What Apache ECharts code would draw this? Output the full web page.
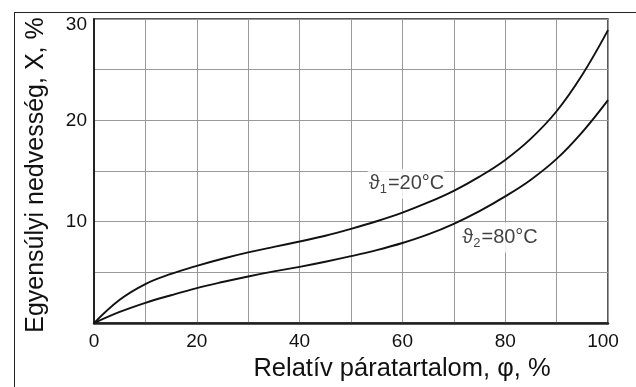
<!DOCTYPE html>
<html>
<head>
<meta charset="utf-8">
<script src="https://cdn.jsdelivr.net/npm/echarts@6/dist/echarts.min.js"></script>
<style>
html,body{margin:0;padding:0;background:#fff;}
#c{width:636px;height:387px;}
</style>
</head>
<body>
<div id="c"></div>
<script>
// Relative humidity φ (%)
const phi = [0, 5, 10, 15, 20, 25, 30, 35, 40, 45, 50, 55, 60, 65, 70, 75, 80, 85, 90, 95, 100];
// Equilibrium moisture X (%) at 20 °C
const moisture20 = [0, 2.3, 3.85, 4.85, 5.65, 6.35, 6.97, 7.52, 8.05, 8.62, 9.3, 10.05, 10.9, 11.9, 13.05, 14.45, 16.1, 18.2, 20.9, 24.5, 28.9];
// Equilibrium moisture X (%) at 80 °C
const moisture80 = [0, 1.1, 2.0, 2.75, 3.45, 4.05, 4.6, 5.1, 5.55, 6.05, 6.6, 7.2, 7.9, 8.75, 9.8, 11.05, 12.5, 14.15, 16.2, 18.85, 22.0];
// Tick labels
const xTicks = [0, 20, 40, 60, 80, 100];
const yTicks = [10, 20, 30];
// Curve labels
const curveLabels = [
  {pre: 'ϑ', sub: '1', post: '=20°C'},
  {pre: 'ϑ', sub: '2', post: '=80°C'}
];
const xTitle = 'Relatív páratartalom, φ, %';
const yTitle = 'Egyensúlyi nedvesség, X, %';

const FONT = "'Liberation Sans', Arial, sans-serif";
const chart = echarts.init(document.getElementById('c'), null, {renderer: 'canvas'});

const richLabel = {
  m: {fontFamily: FONT, fontSize: 20, color: '#111', lineHeight: 24},
  s: {fontFamily: FONT, fontSize: 13, color: '#111', lineHeight: 24, verticalAlign: 'bottom', padding: [0, 1, 0, 0]}
};
function fmtLabel(l) { return '{m|' + l.pre + '}{s|' + l.sub + '}{m|' + l.post + '}'; }

chart.setOption({
  backgroundColor: '#fff',
  animation: false,
  grid: {left: 94, right: 28, top: 19, bottom: 59, show: true, borderColor: '#222', borderWidth: 1.5, backgroundColor: 'transparent'},
  graphic: [
    {type: 'line', shape: {x1: 14, y1: 12.5, x2: 636, y2: 12.5}, style: {stroke: '#222', lineWidth: 1}, silent: true},
    {type: 'line', shape: {x1: 14.5, y1: 12, x2: 14.5, y2: 387}, style: {stroke: '#222', lineWidth: 1}, silent: true}
  ],
  xAxis: {
    type: 'value', min: 0, max: 100, interval: 20,
    name: xTitle, nameLocation: 'middle', nameGap: 29,
    nameTextStyle: {fontFamily: FONT, fontSize: 25.5, color: '#111', padding: [0, 0, 0, 102]},
    axisLine: {show: true, onZero: false, lineStyle: {color: '#222', width: 2.5}},
    axisTick: {show: false},
    axisLabel: {fontFamily: FONT, fontSize: 19, color: '#111', margin: 9,
      formatter: v => !xTicks.includes(v) ? '' : (v === 100 ? '{r|' + v + '}' : String(v)),
      rich: {r: {fontFamily: FONT, fontSize: 19, color: '#111', padding: [0, 10, 0, 0]}}},
    splitLine: {show: true, lineStyle: {color: '#999', width: 1}},
    minorTick: {show: false, splitNumber: 2},
    minorSplitLine: {show: true, lineStyle: {color: '#999', width: 1}}
  },
  yAxis: {
    type: 'value', min: 0, max: 30, interval: 10,
    name: yTitle, nameLocation: 'middle', nameGap: 45,
    nameTextStyle: {fontFamily: FONT, fontSize: 25, color: '#111', padding: [0, 8, 0, 0]},
    axisLine: {show: true, onZero: false, lineStyle: {color: '#222', width: 2}},
    axisTick: {show: false},
    axisLabel: {fontFamily: FONT, fontSize: 19, color: '#111', margin: 7,
      formatter: v => !yTicks.includes(v) ? '' : (v === 30 ? '{t|' + v + '}' : String(v)),
      rich: {t: {fontFamily: FONT, fontSize: 19, color: '#111', padding: [12, 0, 0, 0]}}},
    splitLine: {show: true, lineStyle: {color: '#999', width: 1}},
    minorTick: {show: false, splitNumber: 2},
    minorSplitLine: {show: true, lineStyle: {color: '#999', width: 1}}
  },
  series: [
    {
      type: 'scatter', z: 1, symbolSize: 0, silent: true,
      data: [
        {value: [60.7, 13.75], label: {formatter: fmtLabel(curveLabels[0])}},
        {value: [78.9, 8.45], label: {formatter: fmtLabel(curveLabels[1])}}
      ],
      label: {show: true, position: 'inside', backgroundColor: '#fff', padding: [3, 0, 3, 1], rich: richLabel}
    },
    {
      type: 'line', z: 3, smooth: 0.4, symbol: 'none',
      lineStyle: {color: '#111', width: 1.9},
      data: phi.map((x, i) => [x, moisture20[i]])
    },
    {
      type: 'line', z: 3, smooth: 0.4, symbol: 'none',
      lineStyle: {color: '#111', width: 1.9},
      data: phi.map((x, i) => [x, moisture80[i]])
    }
  ]
});
</script>
</body>
</html>
